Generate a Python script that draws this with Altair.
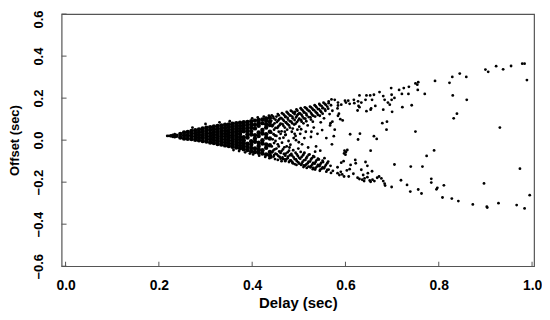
import altair as alt
import pandas as pd

# ---- tick labels ----
x_ticks = [0.0, 0.2, 0.4, 0.6, 0.8, 1.0]
y_ticks = [-0.6, -0.4, -0.2, 0.0, 0.2, 0.4, 0.6]

# ---- saturated core of the wedge (delay column -> offsets) ----
core_x = [0.238, 0.246, 0.254, 0.262, 0.270, 0.278, 0.286, 0.294, 0.302, 0.310,
          0.318, 0.326, 0.334, 0.342, 0.350, 0.358, 0.366, 0.374, 0.382, 0.390,
          0.398, 0.406, 0.414, 0.422, 0.430, 0.438]
core_y = [
    [0.021],
    [0.013, 0.029],
    [0.008, 0.022, 0.036],
    [0.007, 0.023, 0.039],
    [0.005, 0.019, 0.033, 0.044],
    [0.002, 0.017, 0.032, 0.047],
    [-0.001, 0.012, 0.025, 0.038, 0.051],
    [-0.004, 0.011, 0.025, 0.040, 0.055],
    [-0.007, 0.007, 0.020, 0.033, 0.046, 0.059],
    [-0.011, 0.004, 0.019, 0.033, 0.048, 0.062],
    [-0.014, 0.000, 0.013, 0.026, 0.039, 0.052, 0.065],
    [-0.018, -0.004, 0.010, 0.025, 0.039, 0.053, 0.067],
    [-0.021, -0.008, 0.005, 0.018, 0.031, 0.044, 0.057, 0.070],
    [-0.025, -0.011, 0.003, 0.017, 0.031, 0.045, 0.059, 0.073],
    [-0.028, -0.015, -0.002, 0.011, 0.023, 0.036, 0.049, 0.062, 0.075],
    [-0.032, -0.018, -0.004, 0.010, 0.023, 0.037, 0.051, 0.064, 0.078],
    [-0.035, -0.022, -0.009, 0.004, 0.016, 0.029, 0.042, 0.055, 0.068, 0.081],
    [-0.039, -0.025, -0.012, 0.002, 0.015, 0.029, 0.042, 0.056, 0.069, 0.083],
    [-0.043, -0.029, -0.015, -0.001, 0.014, 0.042, 0.056, 0.071, 0.085],
    [-0.047, -0.032, -0.017, 0.013, 0.028, 0.043, 0.058, 0.073, 0.087],
    [-0.053, -0.037, -0.021, -0.005, 0.027, 0.043, 0.059, 0.075, 0.090],
    [-0.056, -0.040, -0.008, 0.008, 0.024, 0.056, 0.073, 0.093],
    [-0.060, -0.044, -0.028, -0.012, 0.020, 0.036, 0.068, 0.082, 0.096],
    [-0.064, -0.048, -0.016, 0.000, 0.032, 0.048, 0.081, 0.099],
    [-0.068, -0.036, -0.020, 0.012, 0.028, 0.060, 0.076, 0.092, 0.103],
    [-0.072, -0.056, -0.024, 0.008, 0.040, 0.072, 0.088, 0.106],
]

# ---- single points: wedge tip and edge bumps ----
tip_pts = [(0.218, 0.020), (0.222, 0.020), (0.226, 0.018), (0.226, 0.023),
           (0.230, 0.016), (0.230, 0.025), (0.234, 0.014), (0.234, 0.021),
           (0.234, 0.028), (0.272, 0.060), (0.300, 0.077), (0.330, 0.085),
           (0.352, 0.090), (0.400, 0.104), (0.412, 0.108), (0.425, 0.112),
           (0.436, 0.116), (0.360, -0.047), (0.372, -0.052), (0.385, -0.058),
           (0.395, -0.064), (0.402, -0.068), (0.415, -0.074), (0.428, -0.080),
           (0.437, -0.086)]

# ---- speckled part of the wedge, delay 0.44 - 0.58 ----
mid_pts = [
    (0.442, 0.118), (0.446, 0.104), (0.441, 0.092), (0.448, 0.080), (0.443, 0.066),
    (0.447, 0.050), (0.441, 0.036), (0.449, 0.022), (0.444, 0.004), (0.447, -0.014),
    (0.442, -0.030), (0.448, -0.044), (0.443, -0.058), (0.447, -0.071), (0.441, -0.082),
    (0.449, -0.090),
    (0.445, 0.112), (0.450, 0.097), (0.445, 0.073), (0.450, 0.058), (0.446, 0.028),
    (0.450, -0.004), (0.445, -0.050), (0.450, -0.064), (0.446, -0.078),
    (0.455, 0.124), (0.452, 0.112), (0.458, 0.100), (0.453, 0.086), (0.459, 0.072),
    (0.454, 0.058), (0.457, 0.040), (0.452, 0.020), (0.459, 0.008), (0.455, -0.020),
    (0.452, -0.040), (0.458, -0.054), (0.453, -0.068), (0.459, -0.080), (0.455, -0.094),
    (0.457, 0.118), (0.461, 0.106), (0.456, 0.093), (0.461, 0.079), (0.456, 0.065),
    (0.461, 0.030), (0.457, -0.030), (0.461, -0.061), (0.456, -0.075), (0.461, -0.088),
    (0.464, 0.128), (0.469, 0.118), (0.463, 0.104), (0.468, 0.092), (0.465, 0.076),
    (0.470, 0.060), (0.463, 0.042), (0.467, 0.012), (0.464, -0.012), (0.469, -0.034),
    (0.463, -0.052), (0.468, -0.066), (0.465, -0.082), (0.470, -0.092), (0.463, -0.100),
    (0.467, 0.124), (0.471, 0.110), (0.466, 0.098), (0.472, 0.084), (0.467, 0.068),
    (0.471, 0.024), (0.466, -0.044), (0.471, -0.074), (0.466, -0.090), (0.471, -0.100),
    (0.474, 0.134), (0.478, 0.124), (0.472, 0.112), (0.477, 0.098), (0.473, 0.084),
    (0.479, 0.070), (0.475, 0.050), (0.472, 0.026), (0.478, -0.004), (0.474, -0.030),
    (0.479, -0.050), (0.472, -0.064), (0.477, -0.078), (0.473, -0.092), (0.479, -0.104),
    (0.476, 0.130), (0.481, 0.117), (0.476, 0.106), (0.481, 0.090), (0.476, 0.076),
    (0.481, 0.060), (0.476, -0.058), (0.481, -0.072), (0.476, -0.086), (0.481, -0.098),
    (0.483, 0.140), (0.488, 0.130), (0.482, 0.118), (0.487, 0.104), (0.484, 0.088),
    (0.490, 0.074), (0.485, 0.040), (0.489, 0.010), (0.482, -0.022), (0.488, -0.048),
    (0.484, -0.066), (0.489, -0.082), (0.483, -0.096), (0.487, -0.110),
    (0.486, 0.136), (0.491, 0.124), (0.486, 0.112), (0.491, 0.096), (0.486, 0.080),
    (0.491, 0.030), (0.486, -0.074), (0.491, -0.090), (0.486, -0.104), (0.491, -0.114),
    (0.495, 0.146), (0.492, 0.134), (0.498, 0.122), (0.494, 0.108), (0.499, 0.094),
    (0.493, 0.078), (0.497, 0.050), (0.494, 0.000), (0.499, -0.040), (0.493, -0.060),
    (0.498, -0.076), (0.494, -0.092), (0.499, -0.106), (0.495, -0.118),
    (0.497, 0.140), (0.501, 0.128), (0.496, 0.116), (0.501, 0.102), (0.496, 0.086),
    (0.501, 0.064), (0.496, -0.068), (0.501, -0.084), (0.496, -0.100), (0.501, -0.112),
    (0.504, 0.152), (0.509, 0.140), (0.503, 0.126), (0.508, 0.112), (0.505, 0.096),
    (0.510, 0.080), (0.503, 0.030), (0.507, -0.020), (0.504, -0.056), (0.509, -0.072),
    (0.503, -0.088), (0.508, -0.104), (0.505, -0.118), (0.510, -0.128),
    (0.506, 0.146), (0.511, 0.132), (0.506, 0.120), (0.511, 0.104), (0.506, 0.088),
    (0.511, -0.064), (0.506, -0.080), (0.511, -0.096), (0.506, -0.112), (0.511, -0.120),
    (0.513, 0.156), (0.518, 0.146), (0.512, 0.132), (0.517, 0.118), (0.514, 0.102),
    (0.519, 0.070), (0.515, 0.040), (0.512, -0.060), (0.518, -0.078), (0.514, -0.094),
    (0.519, -0.110), (0.513, -0.122), (0.517, -0.132),
    (0.516, 0.152), (0.521, 0.140), (0.516, 0.126), (0.521, 0.110), (0.516, 0.090),
    (0.521, -0.070), (0.516, -0.086), (0.521, -0.102), (0.516, -0.116), (0.521, -0.126),
    (0.524, 0.160), (0.529, 0.150), (0.523, 0.138), (0.528, 0.122), (0.525, 0.108),
    (0.530, 0.088), (0.526, 0.015), (0.523, -0.068), (0.528, -0.086), (0.524, -0.102),
    (0.529, -0.116), (0.525, -0.130), (0.530, -0.138),
    (0.526, 0.156), (0.531, 0.144), (0.526, 0.130), (0.531, 0.116), (0.526, 0.098),
    (0.531, -0.076), (0.526, -0.092), (0.531, -0.108), (0.526, -0.124), (0.531, -0.132),
    (0.534, 0.166), (0.538, 0.156), (0.533, 0.142), (0.539, 0.128), (0.535, 0.112),
    (0.532, 0.060), (0.537, -0.030), (0.533, -0.080), (0.538, -0.096), (0.534, -0.112),
    (0.539, -0.126), (0.535, -0.140),
    (0.536, 0.162), (0.541, 0.148), (0.536, 0.134), (0.541, 0.120), (0.541, -0.088),
    (0.536, -0.104), (0.541, -0.118), (0.536, -0.132),
    (0.544, 0.172), (0.549, 0.162), (0.543, 0.148), (0.548, 0.134), (0.545, 0.116),
    (0.550, 0.048), (0.546, -0.050), (0.543, -0.092), (0.548, -0.108), (0.544, -0.124),
    (0.549, -0.136), (0.545, -0.146),
    (0.546, 0.166), (0.551, 0.152), (0.546, 0.140), (0.551, 0.126), (0.551, -0.098),
    (0.546, -0.116), (0.551, -0.130), (0.546, -0.140),
    (0.553, 0.178), (0.558, 0.168), (0.552, 0.154), (0.557, 0.140), (0.554, 0.104),
    (0.559, 0.010), (0.555, -0.086), (0.552, -0.104), (0.558, -0.118), (0.554, -0.134),
    (0.559, -0.150),
    (0.556, 0.172), (0.561, 0.160), (0.556, 0.146), (0.561, -0.110), (0.556, -0.126),
    (0.561, -0.142),
    (0.564, 0.184), (0.569, 0.166), (0.563, 0.150), (0.572, 0.140), (0.566, 0.124),
    (0.567, 0.070), (0.571, -0.020), (0.563, -0.102), (0.568, -0.122), (0.564, -0.140),
    (0.573, -0.146), (0.569, -0.156),
    (0.487, 0.055), (0.493, 0.020), (0.505, 0.052), (0.512, 0.010), (0.520, -0.035),
    (0.527, 0.040), (0.540, 0.030), (0.547, 0.085), (0.535, -0.055), (0.500, -0.010),
    (0.480, -0.035), (0.470, 0.040),
]

# ---- sparse outer points ----
upper_pts = [
    (0.564, 0.176), (0.570, 0.194), (0.577, 0.192), (0.584, 0.179), (0.591, 0.169),
    (0.599, 0.188), (0.606, 0.188), (0.601, 0.179), (0.609, 0.173), (0.584, 0.165),
    (0.583, 0.151), (0.618, 0.192), (0.619, 0.176), (0.627, 0.185), (0.634, 0.179),
    (0.630, 0.213), (0.645, 0.213), (0.653, 0.213), (0.661, 0.216), (0.673, 0.229),
    (0.643, 0.192), (0.657, 0.192), (0.628, 0.163), (0.630, 0.157), (0.626, 0.141),
    (0.645, 0.138), (0.654, 0.145), (0.655, 0.151), (0.664, 0.163), (0.681, 0.145),
    (0.700, 0.135), (0.681, 0.210), (0.684, 0.192), (0.691, 0.179), (0.695, 0.169),
    (0.699, 0.192), (0.705, 0.201), (0.698, 0.248), (0.715, 0.239), (0.725, 0.248),
    (0.736, 0.254), (0.755, 0.239), (0.721, 0.220), (0.735, 0.220), (0.699, 0.216),
    (0.750, 0.270), (0.756, 0.276), (0.754, 0.264), (0.722, 0.157), (0.742, 0.166),
    (0.586, 0.126), (0.589, 0.100), (0.594, 0.094), (0.584, 0.116), (0.572, 0.088),
    (0.568, 0.081), (0.577, 0.050), (0.575, 0.019), (0.679, 0.081), (0.689, 0.088),
    (0.688, 0.050), (0.750, 0.041), (0.610, 0.028), (0.631, 0.031), (0.661, 0.019),
    (0.667, 0.006), (0.627, 0.003),
    (0.770, 0.220), (0.792, 0.282), (0.829, 0.301), (0.823, 0.273), (0.845, 0.317),
    (0.859, 0.301), (0.830, 0.213), (0.860, 0.192), (0.839, 0.126), (0.832, 0.104),
    (0.900, 0.336), (0.906, 0.325), (0.923, 0.352), (0.938, 0.337), (0.955, 0.353),
    (0.979, 0.364), (0.984, 0.364), (0.989, 0.286), (0.931, 0.060),
]

lower_pts = [
    (0.604, -0.047), (0.598, -0.050), (0.601, -0.057), (0.597, -0.063), (0.600, -0.069),
    (0.654, -0.050), (0.596, -0.100), (0.591, -0.107), (0.621, -0.094), (0.611, -0.118),
    (0.622, -0.110), (0.643, -0.104), (0.647, -0.122), (0.705, -0.116), (0.740, -0.126),
    (0.765, -0.126), (0.774, -0.075), (0.790, -0.049), (0.609, -0.138), (0.603, -0.144),
    (0.590, -0.151), (0.583, -0.129), (0.634, -0.141), (0.657, -0.148), (0.648, -0.157),
    (0.638, -0.166), (0.583, -0.157), (0.587, -0.166), (0.593, -0.163), (0.597, -0.173),
    (0.617, -0.160), (0.607, -0.173), (0.626, -0.179), (0.630, -0.185), (0.636, -0.188),
    (0.641, -0.182), (0.647, -0.176), (0.652, -0.192), (0.658, -0.188), (0.662, -0.195),
    (0.668, -0.179), (0.672, -0.173), (0.677, -0.182), (0.681, -0.195), (0.684, -0.207),
    (0.685, -0.216), (0.654, -0.198), (0.640, -0.195), (0.699, -0.223), (0.719, -0.191),
    (0.732, -0.213), (0.739, -0.245), (0.756, -0.235), (0.763, -0.254),
    (0.784, -0.184), (0.784, -0.202), (0.797, -0.227), (0.795, -0.234), (0.811, -0.215),
    (0.808, -0.273), (0.828, -0.278), (0.842, -0.290), (0.873, -0.306), (0.903, -0.317),
    (0.904, -0.321), (0.897, -0.206), (0.928, -0.300), (0.967, -0.309), (0.984, -0.325),
    (0.974, -0.136), (0.995, -0.262),
]

# ---- tables ----
core_rows = [(x, y) for x, ys in zip(core_x, core_y) for y in ys]
df_core = pd.DataFrame(core_rows, columns=["delay", "offset"])

dot_rows = tip_pts + mid_pts + upper_pts + lower_pts
df_dots = pd.DataFrame(dot_rows, columns=["delay", "offset"])

df_xt = pd.DataFrame({"delay": x_ticks})
df_yt = pd.DataFrame({"offset": y_ticks})

FONT = "Liberation Sans"
BOX = "#555555"

xscale = alt.Scale(domain=[-0.0085, 1.0043], nice=False, zero=False)
yscale = alt.Scale(domain=[-0.6, 0.6], nice=False, zero=False)

x_axis = alt.Axis(
    values=x_ticks, format=".1f", ticks=False, tickSize=0, domain=False, grid=False,
    labelFont=FONT, labelFontWeight="bold", labelFontSize=14, labelColor="black",
    labelBaseline="alphabetic", labelPadding=23, labelFlush=False, labelOverlap=False,
    title="Delay (sec)", titleFont=FONT, titleFontWeight="bold", titleFontSize=15,
    titleColor="black", titleBaseline="alphabetic", titleY=42,
)
y_axis = alt.Axis(
    values=y_ticks, format=".1f", ticks=False, tickSize=0, domain=False, grid=False,
    labelFont=FONT, labelFontWeight="bold", labelFontSize=13, labelColor="black",
    labelAngle=270, labelAlign="center", labelBaseline="alphabetic", labelPadding=19,
    labelFlush=False, labelOverlap=False,
    labelOffset={"condition": {"test": "datum.value > 0.55", "value": 5}, "value": 0},
    title="Offset (sec)", titleFont=FONT, titleFontWeight="bold", titleFontSize=13,
    titleColor="black", titleAngle=270, titleBaseline="alphabetic", titleX=-43,
)

X = alt.X("delay:Q", scale=xscale, axis=x_axis)
Y = alt.Y("offset:Q", scale=yscale, axis=y_axis)

core = alt.Chart(df_core).mark_circle(size=20, color="black", opacity=1).encode(x=X, y=Y)
dots = alt.Chart(df_dots).mark_circle(size=8, color="black", opacity=1).encode(x=X, y=Y)
xt = alt.Chart(df_xt).mark_rule(color=BOX, strokeWidth=1).encode(
    x=X, y=alt.value(254), y2=alt.value(249.5))
yt = alt.Chart(df_yt).mark_rule(color=BOX, strokeWidth=1).encode(
    y=Y, x=alt.value(0), x2=alt.value(5))

chart = alt.layer(core, dots, xt, yt).properties(
    width=476, height=254,
    autosize=alt.AutoSizeParams(type="none"),
    padding={"left": 54, "top": 5, "right": 8, "bottom": 45},
    background="white",
).configure_view(stroke=BOX, strokeWidth=1.2)

chart.save("out.html", embed_options={"renderer": "svg", "actions": False})
